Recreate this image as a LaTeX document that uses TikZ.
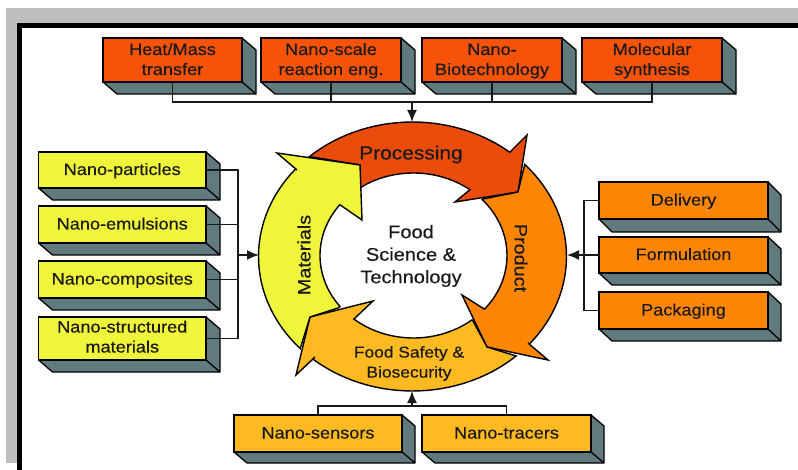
\documentclass[tikz,border=0pt]{standalone}
\usepackage{fontspec}
\setmainfont[FakeStretch=1.1,FakeBold=0.35]{Liberation Sans}
\usetikzlibrary{arrows.meta}
\definecolor{redor}{HTML}{F65309}
\definecolor{procc}{HTML}{EA4C0C}
\definecolor{yel}{HTML}{EFF53B}
\definecolor{ora}{HTML}{FF8504}
\definecolor{amb}{HTML}{FFBA22}
\definecolor{side}{HTML}{607A7E}
\definecolor{ink}{HTML}{1A1A1A}
\definecolor{bggray}{HTML}{BEBEBE}
\newcommand{\tstrut}{\rule[-\dp\strutbox]{0pt}{\dimexpr\ht\strutbox+\dp\strutbox+2pt\relax}}
% #1 name, #2 x1, #3 y1, #4 x2, #5 y2, #6 colour, #7 text, #8 depth x, #9 depth y
\newcommand{\boxthree}[9]{%
  \draw[sideface] (#2,#5) -- (#2+#8,#5+#9) -- (#4+#8,#5+#9) -- (#4+#8,#3+#9) -- (#4,#3) -- (#4,#5) -- cycle;
  \draw[sideface] (#4,#5) -- (#4+#8,#5+#9);
  \node[frontface,fill=#6,minimum width={(#4-#2)*1pt},minimum height={(#5-#3)*1pt}] (#1) at ({(#2+#4)/2},{(#3+#5)/2}) {#7};
}
\tikzset{
  x=1pt,y=-1pt,
  sideface/.style={draw=black,fill=side,line width=1.3pt,line join=round},
  frontface/.style={draw=black,line width=1.3pt,inner sep=0pt,outer sep=0pt,align=center,text=ink,font=\fontsize{16.5}{20}\selectfont},
  link/.style={draw=black!90,line width=1.6pt},
  flow/.style={link,-{Latex[length=12pt,width=10pt]}},
  band/.style={draw=black,line width=1.4pt,line join=miter},
  ringtext/.style={text=ink,inner sep=0pt,align=center},
}
\begin{document}
\begin{tikzpicture}
\useasboundingbox (0,0) rectangle (798,470);
\fill[white] (0,0) rectangle (798,470);
\fill[bggray] (6,8) rectangle (798,463);
\fill[black] (17,23) rectangle (798,28);
\fill[black] (17,23) rectangle (22,470);
\fill[white] (22,28) rectangle (798,470);

% ring
\draw[band,fill=procc]
  (510,152) -- plot[domain=50.8:132,samples=30] ({412.5+154*cos(\x)},{256.5-134.5*sin(\x)})
  -- (360,165) -- (360,187)
  -- plot[domain=124.6:52.9,samples=30] ({413.5+93.5*cos(\x)},{255.5-82.5*sin(\x)})
  -- (455,202) -- (518,192) -- (527,135) -- cycle;
\draw[band,fill=ora]
  (528,343) -- plot[domain=-40.6:43.2,samples=30] ({412.5+154*cos(\x)},{256.5-134.5*sin(\x)})
  -- (518,192) -- (483,199)
  -- plot[domain=42.7:-40.6,samples=30] ({413.5+93.5*cos(\x)},{255.5-82.5*sin(\x)})
  -- (462,295) -- (487,347) -- (548,360) -- cycle;
\draw[band,fill=amb]
  (315,357) -- plot[domain=-130.3:-47.7,samples=30] ({412.5+154*cos(\x)},{256.5-134.5*sin(\x)})
  -- (487,347) -- (473,321)
  -- plot[domain=-51.3:-129.6,samples=30] ({413.5+93.5*cos(\x)},{255.5-82.5*sin(\x)})
  -- (373,301) -- (310,317) -- (296,375) -- cycle;
\draw[band,fill=yel]
  (297,170) -- plot[domain=139.4:223.2,samples=30] ({412.5+154*cos(\x)},{256.5-134.5*sin(\x)})
  -- (310,317) -- (338,308)
  -- plot[domain=218.2:142,samples=30] ({413.5+93.5*cos(\x)},{255.5-82.5*sin(\x)})
  -- (362,220) -- (360,165) -- (277,153) -- cycle;

\coordinate (ringT) at (412,122);
\coordinate (ringL) at (259,255);
\coordinate (ringR) at (567,255);
\coordinate (ringB) at (412,391);

\node[ringtext,font=\fontsize{19}{22}\selectfont] (proc) at (411,154.5) {Processing};
\node[ringtext,font=\fontsize{18}{22}\selectfont,rotate=90] (mat) at (304,255) {Materials};
\node[ringtext,font=\fontsize{18}{22}\selectfont,rotate=-90] (prod) at (521,258) {Product};
\node[ringtext,font=\fontsize{15.8}{20}\selectfont] (safe) at (409,363.5) {Food Safety \&\\Biosecurity};
\node[ringtext,font=\fontsize{18.2}{22.5}\selectfont] (core) at (411,256) {Food\\Science \&\\Technology};

\boxthree{heat}{103}{38}{242}{82}{redor}{\tstrut Heat/Mass\\\strut transfer}{14}{12}
\boxthree{scale}{261}{38}{401}{82}{redor}{\tstrut Nano-scale\\\strut reaction eng.}{14}{12}
\boxthree{bio}{422}{38}{562}{82}{redor}{\tstrut Nano-\\\strut Biotechnology}{14}{12}
\boxthree{mol}{582}{38}{722}{82}{redor}{\tstrut Molecular\\\strut synthesis}{14}{12}

\boxthree{npart}{38.5}{152}{206}{188}{yel}{\tstrut Nano-particles}{14}{12}
\boxthree{nemul}{38.5}{206}{206}{243}{yel}{\tstrut Nano-emulsions}{14}{12}
\boxthree{ncomp}{38.5}{261}{206}{298}{yel}{\tstrut Nano-composites}{14}{12}
\boxthree{nstruct}{38.5}{317}{206}{360}{yel}{\strut Nano-structured\\\strut materials}{14}{12}

\boxthree{deliv}{599}{182}{768}{219}{ora}{\tstrut Delivery}{13}{13}
\boxthree{form}{599}{237}{768}{273}{ora}{\tstrut Formulation}{13}{12}
\boxthree{pack}{599}{292}{768}{329}{ora}{\tstrut Packaging}{13}{12}

\boxthree{sens}{234}{415}{402}{452}{amb}{\tstrut Nano-sensors}{13}{11}
\boxthree{trac}{422}{415}{591}{452}{amb}{\tstrut Nano-tracers}{13}{11}

\coordinate (busT) at (412,102);
\coordinate (busL) at (238,255);
\coordinate (busR) at (584,255);
\coordinate (busB) at (412,406);

\draw[link] (heat.south) |- (busT);
\draw[link] (scale.south) |- (busT);
\draw[link] (bio.south) |- (busT);
\draw[link] (mol.south) |- (busT);
\draw[flow] (busT) -- (ringT);

\draw[link] (npart.east) -| (busL);
\draw[link] (nemul.east) -| (busL);
\draw[link] (ncomp.east) -| (busL);
\draw[link] (nstruct.east) -| (busL);
\draw[flow] (busL) -- (ringL);

\draw[link] (deliv.west) -| (busR);
\draw[link] (form.west) -| (busR);
\draw[link] (pack.west) -| (busR);
\draw[flow] (form.west) -- (ringR);

\draw[link] (sens.north) |- (busB);
\draw[link] (trac.north) |- (busB);
\draw[flow] (busB) -- (ringB);
\end{tikzpicture}
\end{document}
